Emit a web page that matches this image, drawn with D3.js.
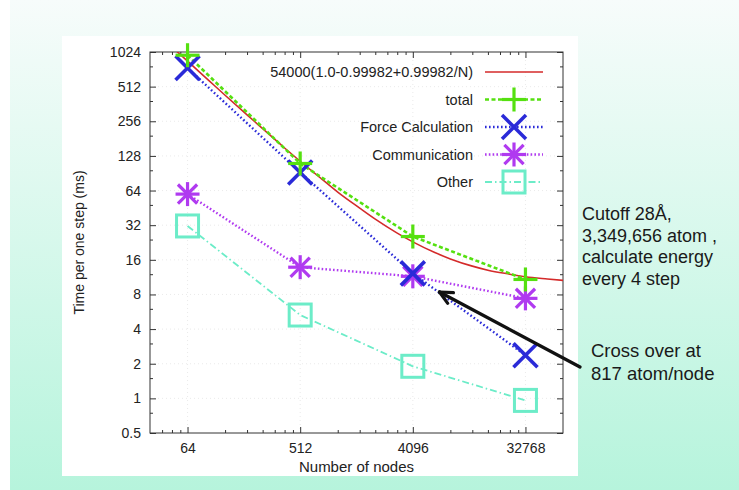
<!DOCTYPE html>
<html>
<head>
<meta charset="utf-8">
<script src="https://cdn.jsdelivr.net/npm/d3@7"></script>
<style>
  html, body { margin: 0; padding: 0; }
  body { width: 739px; height: 490px; overflow: hidden; }
  text { font-family: "Liberation Sans", Arial, sans-serif; }
</style>
</head>
<body>
<svg id="chart" width="739" height="490"></svg>
<script>
// data
const nodes = [64, 512, 4096, 32768];
const total = [960, 110, 25.5, 10.8];
const force = [742, 92, 12.2, 2.37];
const comm = [59.6, 13.8, 11.5, 7.4];
const other = [31.5, 5.3, 1.9, 0.96];
// fitted curve 54000(1.0-0.99982+0.99982/N)
const fitN = [46, 64, 96, 128, 192, 256, 384, 512, 768, 1024, 1536, 2048, 3072, 4096, 6144, 8192, 12288, 16384, 24576, 32768, 49152, 65536];
const fitT = [1180, 853, 572, 431, 291, 221, 150, 115, 80, 62, 45, 36.1, 27.3, 22.9, 18.5, 16.3, 14.1, 13.0, 12.0, 11.4, 10.9, 10.6];
const yTicks = [0.5, 1, 2, 4, 8, 16, 32, 64, 128, 256, 512, 1024];
const xTicks = [64, 512, 4096, 32768];
const noteLines = ["Cutoff 28Å,", "3,349,656 atom ,", "calculate energy", "every 4 step"];
const crossLines = ["Cross over at", "817 atom/node"];

const svg = d3.select("#chart");

// background
const defs = svg.append("defs");
const grad = defs.append("linearGradient").attr("id", "bg").attr("x1", 0).attr("y1", 0).attr("x2", 0).attr("y2", 1);
grad.append("stop").attr("offset", "0%").attr("stop-color", "#f7fcfb");
grad.append("stop").attr("offset", "100%").attr("stop-color", "#b6f4dc");
svg.append("rect").attr("width", 739).attr("height", 490).attr("fill", "url(#bg)");
svg.append("rect").attr("width", 10).attr("height", 490).attr("fill", "#ffffff");
svg.append("rect").attr("x", 62).attr("y", 36).attr("width", 516).attr("height", 440).attr("fill", "#ffffff");

const pLeft = 150, pRight = 563, pTop = 52, pBottom = 433;
const x = d3.scaleLog().base(8).domain([32, 65536]).range([pLeft, pRight]);
const y = d3.scaleLog().base(2).domain([0.5, 1024]).range([pBottom, pTop]);

defs.append("clipPath").attr("id", "plot")
  .append("rect").attr("x", pLeft).attr("y", pTop).attr("width", pRight - pLeft).attr("height", pBottom - pTop);

// faint grid
const grid = svg.append("g").attr("stroke", "#e4e4e4").attr("stroke-width", 0.8).attr("stroke-dasharray", "1,3");
grid.selectAll(".gy").data(yTicks.slice(1, -1)).join("line")
  .attr("x1", pLeft).attr("x2", pRight).attr("y1", d => y(d)).attr("y2", d => y(d));
grid.selectAll(".gx").data(xTicks).join("line")
  .attr("y1", pTop).attr("y2", pBottom).attr("x1", d => x(d)).attr("x2", d => x(d));

// minor tick values
const xMinor = [];
[8, 64, 512, 4096, 32768].forEach(b => { for (let k = 2; k <= 7; k++) { const v = b * k; if (v > 32 && v < 65536 && !xTicks.includes(v)) xMinor.push(v); } });
const yMinor = yTicks.slice(0, -1).map(v => v * 1.5);

function styleAxis(g) {
  g.select(".domain").remove();
  g.selectAll("line").attr("stroke", "#333").attr("stroke-width", 1);
  g.selectAll("text").attr("fill", "#222").style("font-size", "14px").attr("font-family", null);
}

svg.append("g").attr("transform", `translate(${pLeft},0)`)
  .call(d3.axisLeft(y).tickValues(yTicks).tickFormat(d => d).tickSizeInner(-6).tickSizeOuter(0).tickPadding(9))
  .call(styleAxis);
svg.append("g").attr("transform", `translate(${pLeft},0)`)
  .call(d3.axisLeft(y).tickValues(yMinor).tickFormat("").tickSizeInner(-3).tickSizeOuter(0)).call(styleAxis);
svg.append("g").attr("transform", `translate(${pRight},0)`)
  .call(d3.axisRight(y).tickValues(yTicks).tickFormat("").tickSizeInner(-6).tickSizeOuter(0)).call(styleAxis);
svg.append("g").attr("transform", `translate(${pRight},0)`)
  .call(d3.axisRight(y).tickValues(yMinor).tickFormat("").tickSizeInner(-3).tickSizeOuter(0)).call(styleAxis);

svg.append("g").attr("transform", `translate(0,${pBottom})`)
  .call(d3.axisBottom(x).tickValues(xTicks).tickFormat(d => d).tickSizeInner(-6).tickSizeOuter(0).tickPadding(10))
  .call(styleAxis);
svg.append("g").attr("transform", `translate(0,${pBottom})`)
  .call(d3.axisBottom(x).tickValues(xMinor).tickFormat("").tickSizeInner(-3).tickSizeOuter(0)).call(styleAxis);
svg.append("g").attr("transform", `translate(0,${pTop})`)
  .call(d3.axisTop(x).tickValues(xTicks).tickFormat("").tickSizeInner(-6).tickSizeOuter(0)).call(styleAxis);
svg.append("g").attr("transform", `translate(0,${pTop})`)
  .call(d3.axisTop(x).tickValues(xMinor).tickFormat("").tickSizeInner(-3).tickSizeOuter(0)).call(styleAxis);

svg.append("rect").attr("x", pLeft).attr("y", pTop).attr("width", pRight - pLeft).attr("height", pBottom - pTop)
  .attr("fill", "none").attr("stroke", "#333").attr("stroke-width", 1);

// axis titles
svg.append("text").attr("x", (pLeft + pRight) / 2).attr("y", 472).attr("text-anchor", "middle")
  .style("font-size", "15px").attr("fill", "#222").text("Number of nodes");
svg.append("text").attr("transform", `translate(84,${(pTop + pBottom) / 2}) rotate(-90)`).attr("text-anchor", "middle")
  .style("font-size", "14px").attr("fill", "#222").text("Time per one step (ms)");

// series
const series = [
  { name: "total", vals: total, color: "#55e010", dash: "4,2.5", width: 2.6, sym: "plus" },
  { name: "Force Calculation", vals: force, color: "#2a2ad8", dash: "1.6,2.4", width: 2.4, sym: "cross" },
  { name: "Communication", vals: comm, color: "#b03af0", dash: "1.6,2.2", width: 2.4, sym: "star" },
  { name: "Other", vals: other, color: "#6cecc8", dash: "7,3,1.5,3", width: 1.8, sym: "square" }
];

function symbol(g, type, cx, cy, color) {
  const r = 12;
  const s = g.append("g").attr("stroke", color).attr("fill", "none").attr("stroke-width", 3.2);
  if (type === "plus") {
    s.append("line").attr("x1", cx - r).attr("x2", cx + r).attr("y1", cy).attr("y2", cy);
    s.append("line").attr("x1", cx).attr("x2", cx).attr("y1", cy - r).attr("y2", cy + r);
  } else if (type === "cross") {
    s.attr("stroke-width", 3.6);
    s.append("line").attr("x1", cx - r).attr("x2", cx + r).attr("y1", cy - r).attr("y2", cy + r);
    s.append("line").attr("x1", cx - r).attr("x2", cx + r).attr("y1", cy + r).attr("y2", cy - r);
  } else if (type === "star") {
    s.append("line").attr("x1", cx - r).attr("x2", cx + r).attr("y1", cy).attr("y2", cy);
    s.append("line").attr("x1", cx).attr("x2", cx).attr("y1", cy - r).attr("y2", cy + r);
    s.append("line").attr("x1", cx - r * 0.8).attr("x2", cx + r * 0.8).attr("y1", cy - r * 0.8).attr("y2", cy + r * 0.8);
    s.append("line").attr("x1", cx - r * 0.8).attr("x2", cx + r * 0.8).attr("y1", cy + r * 0.8).attr("y2", cy - r * 0.8);
  } else {
    s.attr("stroke-width", 3);
    s.append("rect").attr("x", cx - 11).attr("y", cy - 11).attr("width", 22).attr("height", 22);
  }
}

const plot = svg.append("g").attr("clip-path", "url(#plot)");
const fitLine = d3.line().x(d => x(d[0])).y(d => y(d[1])).curve(d3.curveMonotoneX);
plot.append("path").datum(fitN.map((n, i) => [n, fitT[i]])).attr("d", fitLine)
  .attr("fill", "none").attr("stroke", "#d42a2a").attr("stroke-width", 1.6);

const line = d3.line().x(d => x(d[0])).y(d => y(d[1]));
series.slice().reverse().forEach(s => {
  plot.append("path").datum(nodes.map((n, i) => [n, s.vals[i]])).attr("d", line)
    .attr("fill", "none").attr("stroke", s.color).attr("stroke-width", s.width).attr("stroke-dasharray", s.dash);
});
series.slice().reverse().forEach(s => {
  nodes.forEach((n, i) => symbol(svg, s.sym, x(n), y(s.vals[i]), s.color));
});

// legend
const legX = 473, legY = [72, 99.5, 127, 154.5, 182];
const legend = svg.append("g");
const legItems = [{ name: "54000(1.0-0.99982+0.99982/N)", color: "#d42a2a", dash: null, width: 1.6, sym: null }].concat(series);
legItems.forEach((s, i) => {
  const cy = legY[i];
  legend.append("text").attr("x", legX).attr("y", cy + 5).attr("text-anchor", "end")
    .style("font-size", "14.5px").attr("fill", "#222").text(s.name);
  legend.append("line").attr("x1", 485).attr("x2", 543).attr("y1", cy).attr("y2", cy)
    .attr("stroke", s.color).attr("stroke-width", s.width).attr("stroke-dasharray", s.dash);
  if (s.sym) symbol(legend, s.sym, 514, cy, s.color);
});

// annotation arrow
const tip = [x(6700), y(8.4)];
const tail = [580, 367];
const ang = Math.atan2(tail[1] - tip[1], tail[0] - tip[0]);
const arrow = svg.append("g").attr("stroke", "#111").attr("stroke-width", 3.2).attr("stroke-linecap", "round");
arrow.append("line").attr("x1", tail[0]).attr("y1", tail[1]).attr("x2", tip[0]).attr("y2", tip[1]);
[0.45, -0.45].forEach(a => {
  arrow.append("line").attr("x1", tip[0]).attr("y1", tip[1])
    .attr("x2", tip[0] + 14 * Math.cos(ang + a)).attr("y2", tip[1] + 14 * Math.sin(ang + a));
});

// notes
noteLines.forEach((t, i) => {
  svg.append("text").attr("x", 582).attr("y", 220 + i * 21.5).style("font-size", "18px").attr("fill", "#1a1a1a").text(t);
});
crossLines.forEach((t, i) => {
  svg.append("text").attr("x", 591).attr("y", 357 + i * 23).style("font-size", "18.5px").attr("fill", "#1a1a1a").text(t);
});
</script>
</body>
</html>
